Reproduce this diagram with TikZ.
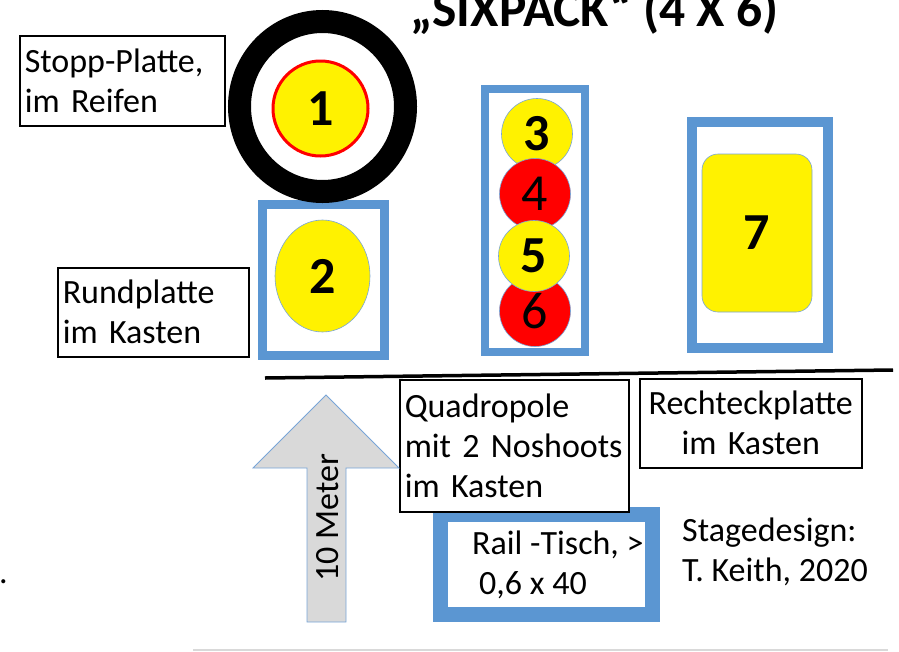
\documentclass[tikz,border=0pt]{standalone}
\usepackage{fontspec}
\setmainfont{Carlito}
\usepackage{tikz}
\usetikzlibrary{shapes.geometric}
\definecolor{kastenblau}{RGB}{91,150,210}
\definecolor{randblau}{RGB}{120,165,215}
\definecolor{pfeilgrau}{RGB}{217,217,217}

\begin{document}
\begin{tikzpicture}[x=1pt,y=-1pt,
  txt/.style={font=\fontsize{34}{40}\selectfont, inner sep=0pt},
  fett/.style={font=\fontsize{52}{52}\selectfont\bfseries},
  schild/.style={draw, fill=white, line width=1.5pt, txt, align=left, anchor=north west, inner xsep=5pt},
  kasten/.style={draw=kastenblau, rectangle, inner sep=0pt},
  scheibe/.style={circle, draw=randblau, line width=0.6pt, minimum size=71pt, inner sep=0pt, font=\fontsize{52}{52}\selectfont}]

\clip (0,0) rectangle (899,651);

% Titel
\node[anchor=base west, inner sep=0pt, font=\fontsize{51.5}{52}\selectfont\bfseries] (titel) at (410,26) {„SIXPACK“ (4 X 6)};

% Rundplatte im Kasten
\node[kasten, line width=9pt, minimum width=122pt, minimum height=151pt] (kastenZwei) at (323.5,280) {};
\node[ellipse, fill=yellow, draw=randblau, line width=0.6pt, minimum width=95pt, minimum height=112pt, inner sep=0pt, fett] (platteZwei) at (322.5,276) {2};

% Stopp-Platte im Reifen
\node[ellipse, draw, line width=23pt, minimum width=166pt, minimum height=170pt] (reifen) at (322.5,106.5) {};
\node[circle, fill=yellow, draw=red, line width=3pt, minimum size=95pt, inner sep=0pt, fett] (platteEins) at (320.5,108.5) {1};

% Quadropole
\node[kasten, line width=8pt, minimum width=100pt, minimum height=263pt] (kastenQuadro) at (535,220.5) {};
\node[scheibe, fill=yellow, fett] (drei) at (537,134) {3};
\node[scheibe, fill=red] (vier) at (535,194) {4};
\node[scheibe, fill=red] (sechs) at (535,311) {6};
\node[scheibe, fill=yellow, fett] (fuenf) at (534,256) {5};

% Rechteckplatte im Kasten
\node[kasten, line width=10pt, minimum width=136pt, minimum height=226pt] (kastenSieben) at (760,235) {};
\node[rectangle, rounded corners=16pt, fill=yellow, draw=randblau, line width=0.6pt, minimum width=110pt, minimum height=158pt, fett] (platteSieben) at (757,233) {7};

% Linie
\coordinate (linieA) at (265,378);
\coordinate (linieB) at (893,370);
\draw[line width=3.5pt] (linieA) -- (linieB);

% Rail-Tisch
\node[kasten, line width=15pt, minimum width=212pt, minimum height=100pt] (kastenRail) at (546.5,564) {};
\node[txt, align=left, anchor=north west] (railText) at (472,531) {Rail -Tisch, >\\\hspace{7pt}0,6 x 40};

% Schilder
\node[schild, text width=195pt, minimum height=90pt] (schildStopp) at (19,35) {Stopp-Platte,\\im Reifen};
\node[schild, text width=181pt, minimum height=89pt] (schildRund) at (57,267) {Rundplatte\\im Kasten};
\node[schild, text width=219pt, minimum height=132pt] (schildQuadro) at (399,379) {Quadropole\\mit 2 Noshoots\\im Kasten};
\node[schild, align=center, text width=212pt, minimum height=89pt] (schildRechteck) at (639,378) {Rechteckplatte\\im Kasten};

% Stagedesign
\node[txt, align=left, anchor=north west] (stage) at (682,518) {Stagedesign:\\T. Keith, 2020};

% Pfeil 10 Meter
\coordinate (spitze) at (326,395);
\draw[fill=pfeilgrau, draw=randblau, line width=0.8pt] (spitze) -- (399,468) -- (346,468) -- (346,622) -- (307,622) -- (307,468) -- (253,468) -- cycle;
\node[txt, rotate=90] (meter) at (328,517.5) {10 Meter};

% Punkt
\node[txt, anchor=base west] (punkt) at (-1,583) {.};

% graue Linie unten
\coordinate (untenA) at (193,650);
\coordinate (untenB) at (888,650);
\draw[pfeilgrau, line width=1.5pt] (untenA) -- (untenB);

\end{tikzpicture}
\end{document}
